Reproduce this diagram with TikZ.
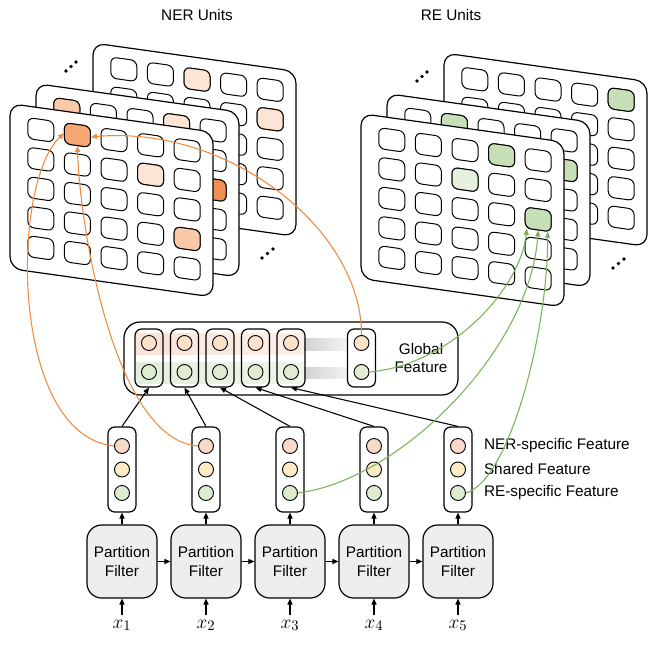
\documentclass[tikz,border=0pt]{standalone}
\usepackage{fontspec}
\setmainfont{Liberation Sans}
\usetikzlibrary{shapes,arrows.meta,positioning,calc}
\definecolor{nerline}{HTML}{EF8A3E}
\definecolor{reline}{HTML}{78B357}
\definecolor{nerdot}{HTML}{F8D9CA}
\definecolor{shdot}{HTML}{FDEBC5}
\definecolor{redot}{HTML}{DDEBD1}
\definecolor{gnerdot}{HTML}{FCE2C9}
\definecolor{gredot}{HTML}{E0ECCF}
\definecolor{filterfill}{HTML}{EEEEEE}
\definecolor{orA}{HTML}{F6A673}
\definecolor{orB}{HTML}{F9C9A8}
\definecolor{orC}{HTML}{FCE5D5}
\definecolor{orD}{HTML}{EE9052}
\definecolor{grA}{HTML}{C7DFB6}
\definecolor{grB}{HTML}{E5F1DC}
\tikzset{arr/.style={draw,-{Triangle[length=4.5pt,width=3.8pt]},line width=0.8pt}}
\tikzset{nerarr/.style={arr,color=nerline}}
\tikzset{rearr/.style={arr,color=reline}}
\tikzset{featcol/.style={draw,rectangle,rounded corners=5pt,minimum width=21pt,minimum height=63.75pt,line width=0.9pt}}
\tikzset{gcol/.style={featcol,minimum height=43.5pt}}
\tikzset{dot/.style={draw,circle,minimum size=11.25pt,inner sep=0pt,line width=0.7pt}}
\tikzset{filter/.style={draw,rectangle,rounded corners=11pt,fill=filterfill,minimum width=52.5pt,minimum height=54.75pt,align=center,inner sep=1pt,line width=0.9pt}}
\tikzset{cell/.style={draw,rectangle,rounded corners=4.5pt,minimum width=19.5pt,minimum height=15.75pt,inner sep=0pt,fill=white,line width=0.75pt,transform shape}}
\tikzset{panel/.style={draw,fill=white,rounded corners=9pt,line width=0.9pt}}
\tikzset{ell/.style={fill,circle,inner sep=0pt,minimum size=2.8pt}}

% one stack layer: name, x, y, highlighted cells (col/row/colour)
\newcommand{\unitpanel}[4]{%
  \begin{scope}[shift={(#2,#3)},yslant=-0.14]
    \draw[panel] (0,0) rectangle (203,165);
    \foreach \ci in {1,...,5}
      \foreach \ri in {1,...,5}
        \node[cell] (#1-\ci-\ri) at ({30.8+36.6*(\ci-1)},{22+29.5*(\ri-1)}) {};
    \foreach \ci/\ri/\clr in {#4}
      \node[cell,fill=\clr] at ({30.8+36.6*(\ci-1)},{22+29.5*(\ri-1)}) {};
  \end{scope}}

\begin{document}
\begin{tikzpicture}[x=0.75pt,y=-0.75pt,font=\fontsize{11.5}{13.8}\selectfont]
  \useasboundingbox (0,0) rectangle (661,646);

  % unit stacks
  \node (nertitle) at (197,15) {NER Units};
  \node (retitle) at (451,15) {RE Units};
  \unitpanel{nerC}{93}{43}{3/1/orC,5/2/orC}
  \unitpanel{nerB}{36}{83.6}{1/1/orB,4/1/orC,5/3/orD}
  \unitpanel{nerA}{10}{103.6}{2/1/orA,4/2/orC,5/4/orB}
  \unitpanel{reC}{444}{53}{5/1/grA}
  \unitpanel{reB}{387}{93.6}{2/1/grA,5/2/grA}
  \unitpanel{reA}{361}{113.6}{4/1/grA,3/2/grB,5/3/grA}
  \foreach \dx/\dy/\u in {0/0/ner,351/10/re} {
    \node[ell] (\u dotsa1) at (66+\dx,71+\dy) {};
    \node[ell] (\u dotsa2) at (71+\dx,66.5+\dy) {};
    \node[ell] (\u dotsa3) at (76+\dx,62+\dy) {};
    \node[ell] (\u dotsb1) at (262+\dx,258+\dy) {};
    \node[ell] (\u dotsb2) at (267.5+\dx,253.5+\dy) {};
    \node[ell] (\u dotsb3) at (273+\dx,249+\dy) {};
  }

  % global feature
  \node[draw,rounded corners=12pt,minimum width=250.5pt,minimum height=54.75pt,line width=0.9pt] (gbox) at (291,358.5) {};
  \shade[left color=nerdot!75,right color=nerdot!40] (136,333) rectangle (304,354);
  \shade[left color=redot!80,right color=redot!45] (136,362) rectangle (304,383);
  \shade[left color=gray!35,right color=gray!10] (304,338) rectangle (347,350);
  \shade[left color=gray!35,right color=gray!10] (304,367) rectangle (347,378);
  \foreach \i/\gx in {1/149,2/184.5,3/220,4/255.5,5/291,6/361.5} {
    \node[gcol] (gc\i) at (\gx,358) {};
    \node[dot,fill=gnerdot] (gn\i) at (\gx,343) {};
    \node[dot,fill=gredot] (gr\i) at (\gx,372) {};
  }
  \node[align=center] (glab) at (421,358) {Global\\Feature};

  % token features and partition filters
  \foreach \i in {1,...,5} {
    \node[featcol] (f\i) at ({122+84*(\i-1)},469.5) {};
    \node[dot,fill=nerdot] (fn\i) at ({122+84*(\i-1)},446) {};
    \node[dot,fill=shdot] (fs\i) at ({122+84*(\i-1)},469.5) {};
    \node[dot,fill=redot] (fr\i) at ({122+84*(\i-1)},493) {};
    \node[filter] (pf\i) at ({122+84*(\i-1)},561.5) {Partition\\Filter};
    \node[anchor=base,font=\fontsize{15.5}{18}\selectfont] (x\i) at ({122+84*(\i-1)},628) {$x_{\i}$};
    \draw[arr] (x\i) -- (pf\i);
    \draw[arr] (pf\i) -- (f\i);
    \draw[arr] (f\i.north) -- (gc\i.south);
  }
  \foreach \i/\j in {1/2,2/3,3/4,4/5}
    \draw[arr] (pf\i) -- (pf\j);
  \node[right=10pt of fn5] (nerlab) {NER-specific Feature};
  \node[right=10pt of fs5] (shlab) {Shared Feature};
  \node[right=10pt of fr5] (relab) {RE-specific Feature};

  % links into the units
  \draw[nerarr] (gn6.north) .. controls (362,230) and (230,125) .. (nerA-2-1.east);
  \draw[nerarr] (fn1.west) .. controls (10,435) and (10,185) .. (nerA-2-1.west);
  \draw[nerarr] (fn2.west) .. controls (115,440) and (80,230) .. (nerA-2-1.south);
  \draw[rearr] (gr6.east) .. controls (450,365) and (520,290) .. ($(reA-5-3.south west)!0.08!(reA-5-3.south east)$);
  \draw[rearr] (fr3.east) .. controls (400,480) and (530,350) .. (reA-5-3.south);
  \draw[rearr] (fr5.east) .. controls (510,480) and (548,330) .. ($(reA-5-3.south west)!0.85!(reA-5-3.south east)$);
\end{tikzpicture}
\end{document}
